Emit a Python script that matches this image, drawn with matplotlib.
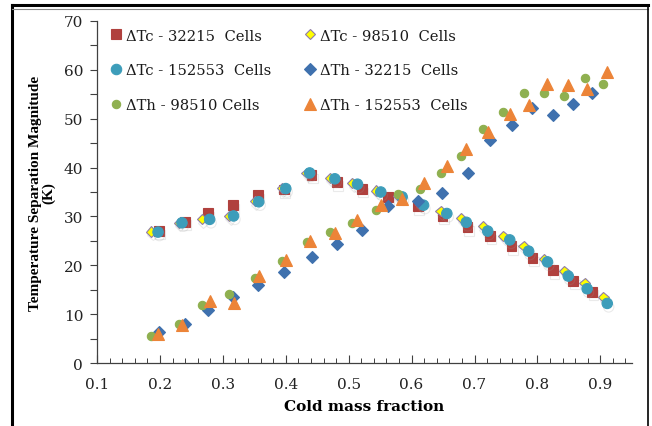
import matplotlib.pyplot as plt
import matplotlib.patheffects as pe
from matplotlib.ticker import MultipleLocator
from matplotlib.lines import Line2D

# Data (cold mass fraction vs temperature separation, K)
x_tc_32215 = [0.198, 0.240, 0.276, 0.316, 0.356, 0.397, 0.441, 0.481, 0.521, 0.562,
              0.610, 0.649, 0.689, 0.725, 0.759, 0.792, 0.825, 0.857, 0.887]
tc_32215 = [27.0, 28.9, 30.7, 32.3, 34.4, 35.5, 38.5, 37.0, 35.6, 34.0,
            32.1, 30.1, 27.8, 26.0, 23.9, 21.5, 19.0, 16.8, 14.6]

x_tc_98510 = [0.186, 0.230, 0.267, 0.310, 0.351, 0.394, 0.433, 0.470, 0.506, 0.544,
              0.578, 0.613, 0.646, 0.679, 0.713, 0.746, 0.778, 0.811, 0.843, 0.875, 0.905]
tc_98510 = [26.9, 28.7, 29.4, 30.1, 33.1, 35.8, 38.9, 37.9, 36.8, 35.3,
            34.2, 32.6, 31.1, 29.6, 28.0, 26.0, 23.9, 21.3, 18.9, 16.4, 13.5]

x_tc_152553 = [0.197, 0.235, 0.279, 0.317, 0.357, 0.400, 0.438, 0.478, 0.514, 0.551,
               0.585, 0.619, 0.656, 0.687, 0.721, 0.756, 0.786, 0.816, 0.849, 0.879, 0.911]
tc_152553 = [26.8, 28.7, 29.4, 30.1, 33.0, 35.7, 38.9, 37.7, 36.6, 35.0,
             34.0, 32.3, 30.6, 28.8, 27.0, 25.2, 22.9, 20.7, 17.8, 15.2, 12.2]

x_th_32215 = x_tc_32215
th_32215 = [6.3, 7.9, 10.9, 13.5, 15.9, 18.6, 21.6, 24.3, 27.3, 32.1,
            33.2, 34.7, 38.8, 45.6, 48.8, 52.2, 50.8, 53.1, 55.3]

x_th_98510 = x_tc_98510
th_98510 = [5.6, 8.0, 11.9, 14.2, 17.4, 20.9, 24.8, 26.8, 28.6, 31.3,
            34.6, 35.7, 38.9, 42.3, 47.8, 51.4, 55.3, 55.3, 54.7, 58.3, 57.1]

x_th_152553 = x_tc_152553
th_152553 = [6.0, 7.7, 12.6, 12.2, 17.8, 21.1, 24.9, 26.7, 29.2, 32.3,
             33.6, 36.9, 40.4, 43.7, 47.2, 51.0, 52.8, 57.2, 57.0, 56.0, 59.5]

series = [
    ("ΔTc - 32215  Cells", x_tc_32215, tc_32215, "s", "#B0413E", "#B0413E", 7.0, True),
    ("ΔTc - 98510  Cells", x_tc_98510, tc_98510, "D", "#FFFF00", "#8E7CA8", 5.2, True),
    ("ΔTc - 152553  Cells", x_tc_152553, tc_152553, "o", "#3D9DBA", "#3D9DBA", 7.5, True),
    ("ΔTh - 32215  Cells", x_th_32215, th_32215, "D", "#3F71AE", "#3F71AE", 6.3, False),
    ("ΔTh - 98510 Cells", x_th_98510, th_98510, "o", "#8FB050", "#8FB050", 6.0, False),
    ("ΔTh - 152553  Cells", x_th_152553, th_152553, "^", "#EC8438", "#EC8438", 8.5, False),
]

plt.rcParams['font.family'] = ['DejaVu Serif']

fig = plt.figure(figsize=(6.52, 4.27), dpi=100)
ax = fig.add_axes([0.1488, 0.1475, 0.8202, 0.801])

handles = []
for label, xs, ys, mk, fc, ec, ms, shadow in series:
    style = dict(linestyle="none", marker=mk, markersize=ms, markerfacecolor=fc,
                 markeredgecolor=ec, markeredgewidth=0.8)
    effects = []
    if shadow:
        effects = [pe.SimpleLineShadow(offset=(1, -2.5), shadow_color="#999999", alpha=0.2),
                   pe.Normal()]
    ax.plot(xs, ys, path_effects=effects, **style)
    handles.append(Line2D([], [], **style))

ax.set_xlim(0.1, 0.95)
ax.set_ylim(0, 70)
ax.xaxis.set_major_locator(MultipleLocator(0.1))
ax.xaxis.set_minor_locator(MultipleLocator(0.02))
ax.yaxis.set_major_locator(MultipleLocator(10))
ax.yaxis.set_minor_locator(MultipleLocator(5))
ax.xaxis.set_major_formatter(plt.FuncFormatter(lambda v, p: f"{v:.1f}"))

ax.spines['top'].set_visible(False)
ax.spines['right'].set_visible(False)
for s in ['left', 'bottom']:
    ax.spines[s].set_color("#404040")
    ax.spines[s].set_linewidth(0.9)

ax.tick_params(axis='x', which='major', direction='in', length=6, width=0.8,
               colors="#404040", labelcolor="#222222", labelsize=11, pad=10)
ax.tick_params(axis='x', which='minor', direction='in', length=3.5, width=0.7, colors="#404040")
ax.tick_params(axis='y', which='both', direction='out', length=5, width=0.8,
               colors="#404040", labelcolor="#222222", labelsize=11, pad=5)

ax.set_xlabel("Cold mass fraction", fontsize=11, fontweight="bold", labelpad=6)
ax.set_ylabel("Temperature Separation Magnitude\n(K)", fontsize=11,
              family="Liberation Serif", fontweight="bold", labelpad=6, linespacing=1.0)

order = [0, 2, 4, 1, 3, 5]
leg = ax.legend([handles[i] for i in order], [series[i][0] for i in order],
                ncol=2, loc="upper left", bbox_to_anchor=(0.0, 1.008), frameon=False,
                fontsize=10.6, handletextpad=0.1, columnspacing=2.0, labelspacing=1.42,
                handlelength=1.2, borderaxespad=0.3)
for t in leg.get_texts():
    t.set_color("#1a1a1a")

# outer frame around the figure
fig.add_artist(Line2D([12 / 652, 12 / 652], [0, 1 - 6 / 427], transform=fig.transFigure,
                      color="black", lw=2.2))
fig.add_artist(Line2D([12 / 652, 648 / 652], [1 - 6 / 427, 1 - 6 / 427],
                      transform=fig.transFigure, color="black", lw=2.2))
fig.add_artist(Line2D([12 / 652, 648 / 652], [1 - 10 / 427, 1 - 10 / 427],
                      transform=fig.transFigure, color="#888888", lw=0.8))
fig.add_artist(Line2D([648 / 652, 648 / 652], [0, 1 - 6 / 427], transform=fig.transFigure,
                      color="black", lw=1.2))

fig.savefig("out.png", dpi=100)
